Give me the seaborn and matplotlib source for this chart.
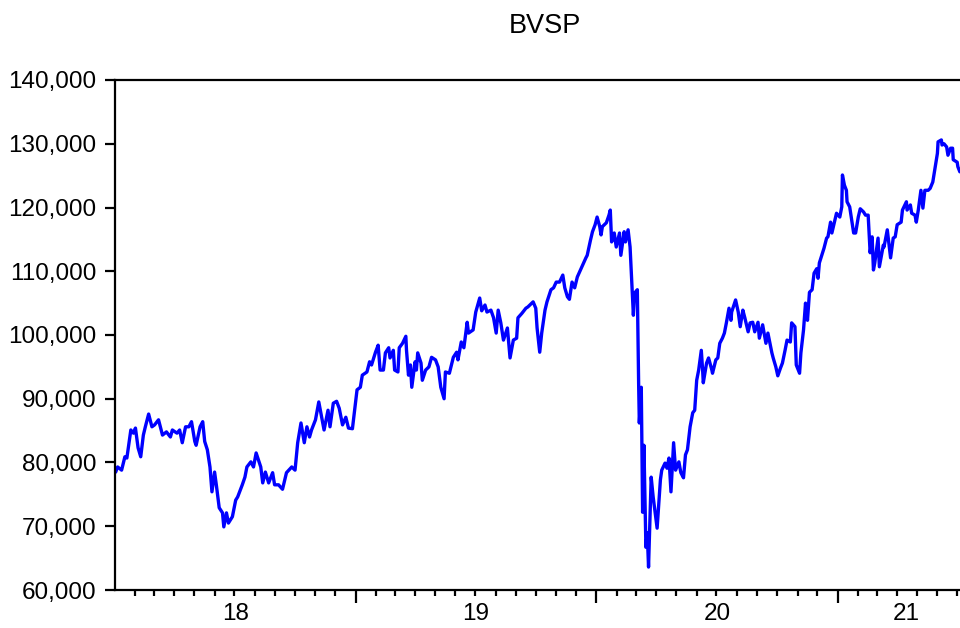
import matplotlib
matplotlib.use("Agg")
import matplotlib.pyplot as plt
import matplotlib.dates as mdates
from matplotlib.ticker import MultipleLocator, FuncFormatter, NullFormatter, FixedLocator
import seaborn as sns
import pandas as pd

# BVSP index readings (date, close)
dates = [
    "2018-01-02", "2018-01-05", "2018-01-11", "2018-01-16", "2018-01-19", "2018-01-25", "2018-01-29",
    "2018-02-01", "2018-02-05", "2018-02-09", "2018-02-13", "2018-02-16", "2018-02-21", "2018-02-26",
    "2018-03-02", "2018-03-08", "2018-03-14", "2018-03-20", "2018-03-26", "2018-03-29", "2018-04-05",
    "2018-04-09", "2018-04-13", "2018-04-18", "2018-04-23", "2018-04-27", "2018-05-02", "2018-05-04",
    "2018-05-10", "2018-05-14", "2018-05-17", "2018-05-21", "2018-05-25", "2018-05-28", "2018-06-01",
    "2018-06-04", "2018-06-08", "2018-06-13", "2018-06-15", "2018-06-19", "2018-06-22", "2018-06-28",
    "2018-07-03", "2018-07-06", "2018-07-13", "2018-07-17", "2018-07-20", "2018-07-26", "2018-07-30",
    "2018-08-03", "2018-08-10", "2018-08-13", "2018-08-17", "2018-08-22", "2018-08-28", "2018-08-31",
    "2018-09-06", "2018-09-12", "2018-09-18", "2018-09-26", "2018-10-01", "2018-10-05", "2018-10-10",
    "2018-10-15", "2018-10-19", "2018-10-23", "2018-10-26", "2018-11-01", "2018-11-06", "2018-11-12",
    "2018-11-14", "2018-11-20", "2018-11-23", "2018-11-28", "2018-12-03", "2018-12-07", "2018-12-12",
    "2018-12-17", "2018-12-21", "2018-12-27",
    "2019-01-03", "2019-01-08", "2019-01-11", "2019-01-18", "2019-01-22", "2019-01-25", "2019-01-31",
    "2019-02-04", "2019-02-07", "2019-02-12", "2019-02-15", "2019-02-20", "2019-02-22", "2019-02-27",
    "2019-03-01", "2019-03-06", "2019-03-08", "2019-03-13", "2019-03-18", "2019-03-19", "2019-03-22",
    "2019-03-25", "2019-03-27", "2019-04-01", "2019-04-03", "2019-04-05", "2019-04-10", "2019-04-12",
    "2019-04-17", "2019-04-22", "2019-04-26", "2019-05-02", "2019-05-06", "2019-05-10", "2019-05-15",
    "2019-05-17", "2019-05-23", "2019-05-29", "2019-06-03", "2019-06-05", "2019-06-10", "2019-06-14",
    "2019-06-19", "2019-06-21", "2019-06-28", "2019-07-02", "2019-07-08", "2019-07-11", "2019-07-16",
    "2019-07-19", "2019-07-25", "2019-07-29", "2019-08-02", "2019-08-05", "2019-08-09", "2019-08-13",
    "2019-08-19", "2019-08-23", "2019-08-28", "2019-09-02", "2019-09-04", "2019-09-10", "2019-09-16",
    "2019-09-19", "2019-09-25", "2019-09-27", "2019-10-01", "2019-10-03", "2019-10-07", "2019-10-10",
    "2019-10-15", "2019-10-18", "2019-10-24", "2019-10-28", "2019-11-01", "2019-11-06", "2019-11-11",
    "2019-11-14", "2019-11-18", "2019-11-21", "2019-11-25", "2019-11-29", "2019-12-03", "2019-12-09",
    "2019-12-11", "2019-12-16", "2019-12-18", "2019-12-23", "2019-12-26", "2019-12-30",
    "2020-01-02", "2020-01-06", "2020-01-08", "2020-01-10", "2020-01-16", "2020-01-20", "2020-01-22",
    "2020-01-24", "2020-01-28", "2020-01-31", "2020-02-05", "2020-02-07", "2020-02-12", "2020-02-14",
    "2020-02-18", "2020-02-21", "2020-02-26", "2020-02-28", "2020-03-03", "2020-03-05", "2020-03-06",
    "2020-03-09", "2020-03-11", "2020-03-13", "2020-03-16", "2020-03-18", "2020-03-20", "2020-03-24",
    "2020-03-27", "2020-03-30", "2020-04-02", "2020-04-07", "2020-04-09", "2020-04-14", "2020-04-17",
    "2020-04-20", "2020-04-23", "2020-04-27", "2020-04-30", "2020-05-05", "2020-05-08", "2020-05-12",
    "2020-05-15", "2020-05-18", "2020-05-22", "2020-05-26", "2020-05-29", "2020-06-01", "2020-06-04",
    "2020-06-08", "2020-06-10", "2020-06-11", "2020-06-16", "2020-06-19", "2020-06-24", "2020-06-25",
    "2020-06-30", "2020-07-03", "2020-07-06", "2020-07-10", "2020-07-13", "2020-07-16", "2020-07-20",
    "2020-07-23", "2020-07-24", "2020-07-30", "2020-08-03", "2020-08-06", "2020-08-10", "2020-08-13",
    "2020-08-18", "2020-08-21", "2020-08-25", "2020-08-28", "2020-09-02", "2020-09-04", "2020-09-09",
    "2020-09-14", "2020-09-17", "2020-09-23", "2020-09-25", "2020-09-29", "2020-10-02", "2020-10-06",
    "2020-10-09", "2020-10-13", "2020-10-16", "2020-10-21", "2020-10-23", "2020-10-28", "2020-10-30",
    "2020-11-04", "2020-11-06", "2020-11-10", "2020-11-13", "2020-11-16", "2020-11-19", "2020-11-23",
    "2020-11-26", "2020-11-30", "2020-12-02", "2020-12-04", "2020-12-10", "2020-12-11", "2020-12-15",
    "2020-12-17", "2020-12-21", "2020-12-23", "2020-12-30",
    "2021-01-04", "2021-01-07", "2021-01-08", "2021-01-11", "2021-01-14", "2021-01-15", "2021-01-19",
    "2021-01-22", "2021-01-25", "2021-01-28", "2021-02-01", "2021-02-04", "2021-02-09", "2021-02-12",
    "2021-02-16", "2021-02-19", "2021-02-22", "2021-02-24", "2021-02-26", "2021-03-03", "2021-03-05",
    "2021-03-11", "2021-03-12", "2021-03-17", "2021-03-22", "2021-03-26", "2021-03-29", "2021-04-01",
    "2021-04-07", "2021-04-09", "2021-04-15", "2021-04-16", "2021-04-21", "2021-04-23", "2021-04-28",
    "2021-04-30", "2021-05-03", "2021-05-07", "2021-05-10", "2021-05-13", "2021-05-18", "2021-05-21",
    "2021-05-25", "2021-05-28", "2021-06-01", "2021-06-02", "2021-06-07", "2021-06-08", "2021-06-11",
    "2021-06-15", "2021-06-17", "2021-06-21", "2021-06-24", "2021-06-25", "2021-07-01", "2021-07-02",
    "2021-07-05",
]

bvsp = [
    78500, 79300, 78800, 80900, 80700, 85100, 84600,
    85400, 82300, 80900, 84300, 85600, 87600, 85600,
    85900, 86700, 84300, 84800, 84000, 85100, 84600,
    85100, 83100, 85600, 85600, 86400, 83300, 82700,
    85600, 86400, 83300, 82000, 79300, 75400, 78500,
    76200, 72900, 72100, 69900, 72100, 70500, 71500,
    74100, 74600, 76500, 77700, 79300, 80100, 79300,
    81500, 79300, 76800, 78500, 76800, 78400, 76500,
    76500, 75800, 78400, 79300, 78800, 83100, 86200,
    83100, 85600, 84000, 85100, 86700, 89500, 86200,
    85100, 88200, 85600, 89300, 89600, 88500, 85900,
    87100, 85400, 85300,
    91400, 91800, 93700, 94200, 95800, 95300, 97300,
    98400, 94500, 94500, 97200, 98000, 96400, 97600,
    94500, 94200, 98000, 98700, 99800, 97600, 93700,
    95300, 91800, 95800, 94500, 97200, 95600, 92900,
    94500, 95000, 96500, 96100, 95000, 91800, 90000,
    94200, 94000, 96500, 97300, 96100, 98900, 98000,
    102000, 100300, 100800, 103600, 105800, 103800, 104700,
    103600, 103900, 102700, 100300, 103900, 101900, 99200,
    101100, 96400, 99200, 99500, 102700, 103400, 104200,
    104400, 105000, 105200, 104200, 101100, 97300, 100300,
    103900, 105200, 107100, 107400, 108300, 108300, 109400,
    107400, 106000, 105600, 108300, 107400, 109100, 110500,
    111000, 112100, 112500, 114900, 116200, 117300,
    118500, 117000, 115700, 117000, 117600, 118800, 119600,
    114600, 116000, 113800, 116000, 112500, 116200, 114600,
    116500, 113800, 103100, 106600, 107100, 92200, 86200,
    91800, 72200, 82700, 66700, 69000, 63600, 77700,
    74600, 72100, 69700, 77300, 78800, 79900, 79100,
    80700, 75400, 83100, 78800, 80100, 78400, 77600,
    81200, 82000, 85600, 87800, 88200, 92900, 94500,
    97600, 94500, 92500, 95600, 96400, 94500, 94000,
    96100, 96400, 98700, 99500, 100300, 101900, 104200,
    102300, 103600, 105500, 103600, 101300, 103900, 102700,
    100500, 101900, 102000, 100500, 102000, 99500, 101600,
    98700, 100300, 97200, 96400, 95000, 93600, 94800,
    95600, 97600, 99200, 98900, 101900, 101300, 95300,
    94000, 97200, 100800, 105000, 102300, 106700, 107100,
    109700, 110400, 108900, 111300, 113300, 113600, 115200,
    115400, 117700, 116000, 119100,
    118500, 120100, 125100, 123500, 122700, 120900, 120100,
    118000, 116000, 116000, 118500, 119800, 119300, 118800,
    118800, 112900, 115400, 110200, 111300, 115200, 110700,
    114100, 113800, 116500, 112100, 115200, 115400, 117300,
    117700, 119600, 120900, 119600, 120400, 119100, 118800,
    117700, 119600, 122700, 119900, 122700, 122700, 123000,
    124000, 125900, 128500, 130300, 130600, 129800, 130000,
    129500, 128200, 129300, 129300, 127500, 127100, 126400,
    125600,
]

year_labels = ["18", "19", "20", "21"]
axis_start = "2018-01-01"
axis_end = "2021-07-28"

df = pd.DataFrame({"date": pd.to_datetime(dates), "value": bvsp})

sns.set_style("ticks")
plt.rcParams["font.family"] = ["Liberation Sans", "DejaVu Sans"]
plt.rcParams["text.color"] = "black"
plt.rcParams["xtick.color"] = "black"
plt.rcParams["ytick.color"] = "black"

fig = plt.figure(figsize=(9.6, 6.28), dpi=100)
# axes run slightly past the right edge, like the cropped original
ax = fig.add_axes([115 / 960, 38 / 628, 860 / 960, 510 / 628])

sns.lineplot(data=df, x="date", y="value", color="#0000ff", linewidth=2.4, ax=ax, legend=False)

x0, x1 = pd.Timestamp(axis_start), pd.Timestamp(axis_end)
ax.set_xlim(x0, x1)
ax.set_ylim(60000, 140000)

# y axis
ax.yaxis.set_major_locator(MultipleLocator(10000))
ax.yaxis.set_major_formatter(FuncFormatter(lambda v, p: f"{v:,.0f}"))

# x axis: long ticks at year starts, short ticks at month starts, year labels centred
year_starts = pd.date_range("2019-01-01", "2021-01-01", freq="YS")
month_starts = pd.date_range("2018-02-01", "2021-07-01", freq="MS")
ax.xaxis.set_major_locator(FixedLocator(mdates.date2num(year_starts)))
ax.xaxis.set_minor_locator(FixedLocator(mdates.date2num(month_starts)))
ax.xaxis.set_major_formatter(NullFormatter())
ax.xaxis.set_minor_formatter(NullFormatter())

bounds = [x0] + list(year_starts) + [x1]
for lab, a, b in zip(year_labels, bounds[:-1], bounds[1:]):
    ax.text(a + (b - a) / 2, -0.047, lab, transform=ax.get_xaxis_transform(),
            ha="center", va="center", fontsize=17.5, color="black")

ax.tick_params(axis="y", which="major", direction="out", length=7.5, width=1.6,
               labelsize=17.5, pad=6, colors="black")
ax.tick_params(axis="x", which="major", direction="out", length=9, width=1.6, colors="black")
ax.tick_params(axis="x", which="minor", direction="out", length=4, width=1.6, colors="black")

for side in ["left", "bottom", "top", "right"]:
    ax.spines[side].set_visible(True)
    ax.spines[side].set_linewidth(1.6)
    ax.spines[side].set_color("black")

ax.set_xlabel("")
ax.set_ylabel("")
ax.set_title("BVSP", fontsize=19.5, pad=34, color="black")

fig.savefig("out.png", dpi=100)
